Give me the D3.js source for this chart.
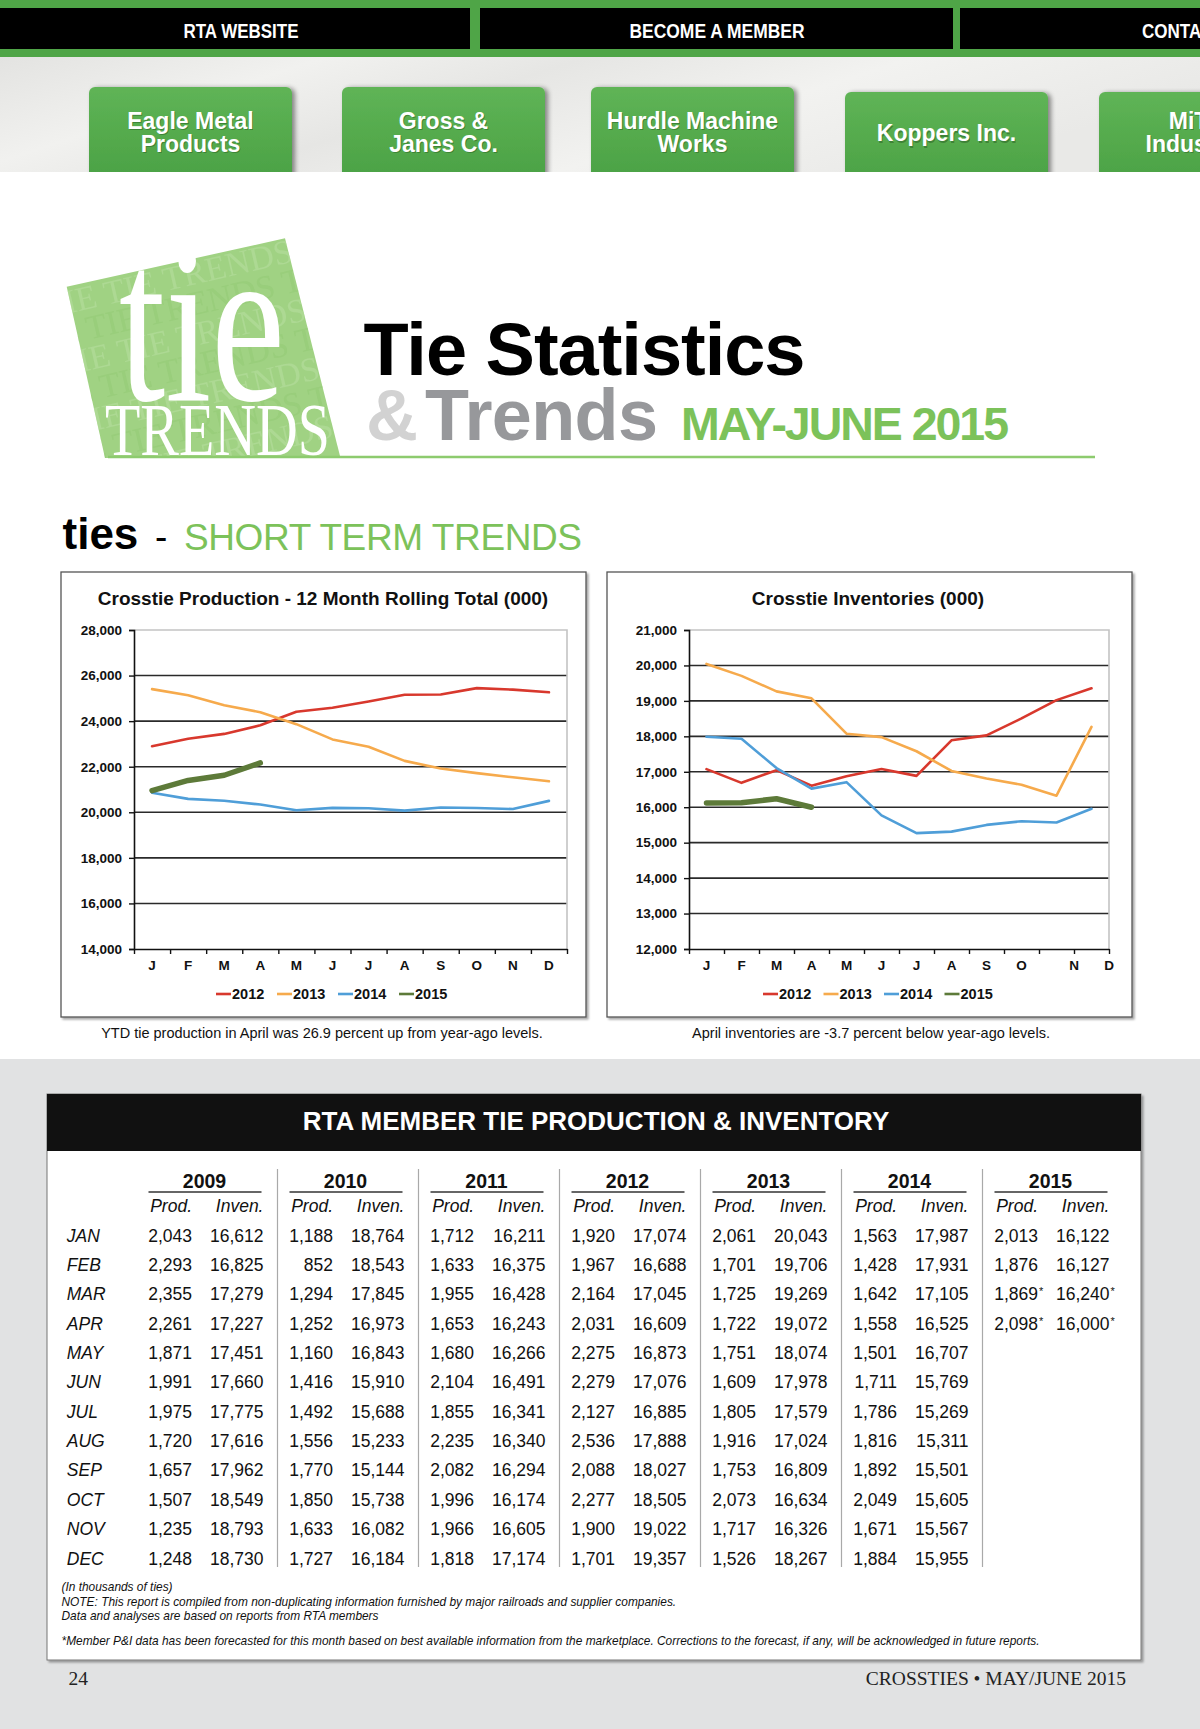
<!DOCTYPE html>
<html><head><meta charset="utf-8">
<script src="https://cdn.jsdelivr.net/npm/d3@7"></script>
<style>
html,body{margin:0;padding:0;background:#fff;}
svg{display:block;}
</style></head><body>
<svg id="page" width="1200" height="1729"></svg>
<script>
// ================= DATA =================
const monthNames = ["JAN","FEB","MAR","APR","MAY","JUN","JUL","AUG","SEP","OCT","NOV","DEC"];
const monthInitials = ["J","F","M","A","M","J","J","A","S","O","N","D"];
const chartYears = ["2012","2013","2014","2015"];

// Crosstie Production - 12 Month Rolling Total (000)
const rolling2012 = [22897,23231,23440,23818,24413,24588,24860,25161,25167,25448,25382,25265];
const rolling2013 = [25406,25140,24701,24392,23868,23198,22876,22256,21921,21717,21534,21359];
const rolling2014 = [20861,20588,20505,20341,20091,20193,20174,20074,20213,20189,20143,20501];
const rolling2015 = [20951,21399,21626,22166];
const prodTicks = [14000,16000,18000,20000,22000,24000,26000,28000];

// Crosstie Inventories (000)
const inventory2012 = [17074,16688,17045,16609,16873,17076,16885,17888,18027,18505,19022,19357];
const inventory2013 = [20043,19706,19269,19072,18074,17978,17579,17024,16809,16634,16326,18267];
const inventory2014 = [17987,17931,17105,16525,16707,15769,15269,15311,15501,15605,15567,15955];
const inventory2015 = [16122,16127,16240,16000];
const invTicks = [12000,13000,14000,15000,16000,17000,18000,19000,20000,21000];

// RTA member tie production & inventory table (thousands of ties)
const tableYears = ["2009","2010","2011","2012","2013","2014","2015"];
const prod2009 = [2043,2293,2355,2261,1871,1991,1975,1720,1657,1507,1235,1248];
const inv2009  = [16612,16825,17279,17227,17451,17660,17775,17616,17962,18549,18793,18730];
const prod2010 = [1188,852,1294,1252,1160,1416,1492,1556,1770,1850,1633,1727];
const inv2010  = [18764,18543,17845,16973,16843,15910,15688,15233,15144,15738,16082,16184];
const prod2011 = [1712,1633,1955,1653,1680,2104,1855,2235,2082,1996,1966,1818];
const inv2011  = [16211,16375,16428,16243,16266,16491,16341,16340,16294,16174,16605,17174];
const prod2012 = [1920,1967,2164,2031,2275,2279,2127,2536,2088,2277,1900,1701];
const inv2012  = [17074,16688,17045,16609,16873,17076,16885,17888,18027,18505,19022,19357];
const prod2013 = [2061,1701,1725,1722,1751,1609,1805,1916,1753,2073,1717,1526];
const inv2013  = [20043,19706,19269,19072,18074,17978,17579,17024,16809,16634,16326,18267];
const prod2014 = [1563,1428,1642,1558,1501,1711,1786,1816,1892,2049,1671,1884];
const inv2014  = [17987,17931,17105,16525,16707,15769,15269,15311,15501,15605,15567,15955];
const prod2015 = [2013,1876,1869,2098];
const inv2015  = [16122,16127,16240,16000];
const forecast2015 = [false,false,true,true];

const navLabels = ["RTA WEBSITE","BECOME A MEMBER","CONTACT"];
const buttonLabels = [["Eagle Metal","Products"],["Gross &","Janes Co."],["Hurdle Machine","Works"],["Koppers Inc."],["MiTek","Industries"]];

// ================= DRAW =================
const SANS = '"Liberation Sans", Arial, Helvetica, sans-serif';
const SERIF = '"Liberation Serif", "Times New Roman", serif';
const seriesColor = {"2012":"#d8382d","2013":"#f6aa4c","2014":"#4f9ed8","2015":"#5d7a39"};
const seriesWidth = {"2012":2.6,"2013":2.6,"2014":2.6,"2015":5.5};
const GREEN = "#7cc25a";

const svg = d3.select("#page");
svg.style("font-family", SANS);
const defs = svg.append("defs");

function shadowFilter(id, dx, dy, sd, op){
  const f = defs.append("filter").attr("id", id).attr("x","-20%").attr("y","-20%").attr("width","150%").attr("height","150%");
  f.append("feGaussianBlur").attr("in","SourceAlpha").attr("stdDeviation", sd).attr("result","blur");
  f.append("feOffset").attr("in","blur").attr("dx",dx).attr("dy",dy).attr("result","off");
  f.append("feComponentTransfer").attr("in","off").attr("result","sh").append("feFuncA").attr("type","linear").attr("slope",op);
  const m = f.append("feMerge");
  m.append("feMergeNode").attr("in","sh");
  m.append("feMergeNode").attr("in","SourceGraphic");
}
shadowFilter("btnShadow", 3, 1, 2.5, 0.45);
shadowFilter("boxShadow", 1.5, 2, 1.2, 0.35);

const texG = defs.append("linearGradient").attr("id","tex").attr("x1","0").attr("x2","1").attr("y1","0").attr("y2","0.3");
[["0%","#e3e3e1"],["25%","#f1f1ef"],["45%","#e6e6e4"],["70%","#f2f2f0"],["100%","#e9e9e7"]].forEach(s=>texG.append("stop").attr("offset",s[0]).attr("stop-color",s[1]));
const btnG = defs.append("linearGradient").attr("id","btn").attr("x1","0").attr("x2","0").attr("y1","0").attr("y2","1");
[["0%","#5fb456"],["100%","#49a043"]].forEach(s=>btnG.append("stop").attr("offset",s[0]).attr("stop-color",s[1]));

// page background
svg.append("rect").attr("x",0).attr("y",0).attr("width",1200).attr("height",1729).attr("fill","#fff");
svg.append("rect").attr("x",0).attr("y",1059).attr("width",1200).attr("height",670).attr("fill","#e1e2e3");

// ---- top navigation ----
svg.append("rect").attr("x",0).attr("y",0).attr("width",1200).attr("height",57).attr("fill","#4fa547");
[[0,470],[480,953],[960,1200]].forEach(b=>{
  svg.append("rect").attr("x",b[0]).attr("y",8).attr("width",b[1]-b[0]).attr("height",41).attr("fill","#000");
});
const navPos = [[241,"middle",115],[717,"middle",175],[1142,"start",82]];
navLabels.forEach((t,i)=>{
  svg.append("text").attr("x",navPos[i][0]).attr("y",37.5).attr("text-anchor",navPos[i][1])
    .attr("textLength",navPos[i][2]).attr("lengthAdjust","spacingAndGlyphs")
    .attr("fill","#fff").attr("font-weight","bold").attr("font-size",20).text(t);
});
svg.append("rect").attr("x",0).attr("y",57).attr("width",1200).attr("height",115).attr("fill","url(#tex)");

const btnLeft = [89,342,591,845,1099], btnTop = [87,87,87,92,92];
buttonLabels.forEach((lines,i)=>{
  const g = svg.append("g");
  g.append("rect").attr("x",btnLeft[i]).attr("y",btnTop[i]).attr("width",203).attr("height",100)
   .attr("rx",6).attr("fill","url(#btn)").attr("filter","url(#btnShadow)");
  const cx = btnLeft[i]+101.5;
  const base = lines.length===2 ? [128.5,151.5] : [141];
  lines.forEach((ln,j)=>{
    g.append("text").attr("x",cx+1).attr("y",base[j]+1.5).attr("text-anchor","middle")
      .attr("font-size",23).attr("font-weight","bold").attr("fill","#2f6a2a").attr("opacity",0.6).text(ln);
    g.append("text").attr("x",cx).attr("y",base[j]).attr("text-anchor","middle")
      .attr("font-size",23).attr("font-weight","bold").attr("fill","#fff").text(ln);
  });
});
svg.append("rect").attr("x",0).attr("y",172).attr("width",1200).attr("height",60).attr("fill","#fff");

// ---- logo ----
const logoPts = [[66.7,286.7],[285,238.3],[340,456],[105,458]];
defs.append("clipPath").attr("id","logoClip").append("polygon").attr("points",logoPts.map(p=>p.join(",")).join(" "));
svg.append("polygon").attr("points",logoPts.map(p=>p.join(",")).join(" ")).attr("fill","#a0d283");
const pat = svg.append("g").attr("clip-path","url(#logoClip)").append("g").attr("transform","rotate(-13,200,350)");
d3.range(8).forEach(r=>{
  pat.append("text").attr("x",20 + (r%2)*25).attr("y",255+r*30).attr("font-family",SERIF)
    .attr("font-size",34).attr("fill",r%2?"#b9e0a3":"#92c974").attr("opacity",0.5)
    .text("THE TIE TRENDS THE TIE TRENDS");
});
svg.append("text").attr("x",119).attr("y",400).attr("font-family",SERIF).attr("font-size",228)
  .attr("textLength",166).attr("lengthAdjust","spacingAndGlyphs").attr("fill","#fff").text("tie");
svg.append("text").attr("x",105).attr("y",455).attr("font-family",SERIF).attr("font-size",75)
  .attr("textLength",225).attr("lengthAdjust","spacingAndGlyphs").attr("fill","#fff").text("TRENDS");

// ---- page title ----
svg.append("text").attr("x",363.5).attr("y",375).attr("font-size",74).attr("font-weight","bold")
  .attr("textLength",442).attr("fill","#000").text("Tie Statistics");
svg.append("text").attr("x",366).attr("y",440).attr("font-size",72).attr("font-weight","bold")
  .attr("fill","#d2d2d2").text("&");
svg.append("text").attr("x",425).attr("y",440).attr("font-size",72).attr("font-weight","bold")
  .attr("textLength",233).attr("fill","#97989b").text("Trends");
svg.append("text").attr("x",681).attr("y",440).attr("font-size",46.5).attr("font-weight","bold")
  .attr("textLength",328).attr("fill",GREEN).text("MAY-JUNE 2015");
svg.append("line").attr("x1",108).attr("x2",1095).attr("y1",457).attr("y2",457).attr("stroke","#8dcb6e").attr("stroke-width",2.5);

// ---- section heading ----
svg.append("text").attr("x",62.5).attr("y",548.5).attr("font-size",44).attr("font-weight","bold").attr("fill","#000").text("ties");
svg.append("text").attr("x",155).attr("y",548.5).attr("font-size",37).attr("fill","#000").text("-");
svg.append("text").attr("x",184).attr("y",550).attr("font-size",37).attr("textLength",398).attr("fill",GREEN).text("SHORT TERM TRENDS");

// ---- charts ----
function drawChart(o){
  const g = svg.append("g");
  g.append("rect").attr("x",o.box[0]).attr("y",572).attr("width",o.box[1]-o.box[0]).attr("height",445)
    .attr("fill","#fff").attr("stroke","#555").attr("stroke-width",1.3).attr("filter","url(#boxShadow)");
  g.append("text").attr("x",o.titleX).attr("y",605).attr("text-anchor","middle").attr("font-size",19)
    .attr("font-weight","bold").attr("fill","#111").text(o.title);

  const top = 630, bottom = 949;
  const x = d3.scaleBand().domain(d3.range(12)).range([o.x0,o.x1]).padding(0);
  const xl = d3.scaleLinear().domain([0,12]).range([o.x0,o.x1]);
  const y = d3.scaleLinear().domain(d3.extent(o.ticks)).range([bottom,top]);

  // gridlines
  g.append("g").selectAll("line").data(o.ticks.slice(1,-1)).join("line")
    .attr("x1",o.x0).attr("x2",o.x1).attr("y1",d=>y(d)).attr("y2",d=>y(d))
    .attr("stroke","#2a2a2a").attr("stroke-width",1.6);
  // light plot border (top and right)
  g.append("path").attr("d",`M${o.x0},${y(o.ticks[o.ticks.length-1])}H${o.x1}V${bottom}`)
    .attr("fill","none").attr("stroke","#c4c4c4").attr("stroke-width",1.6);

  // y axis
  const ya = g.append("g").attr("transform",`translate(${o.x0},0)`)
    .call(d3.axisLeft(y).tickValues(o.ticks).tickFormat(d3.format(",")).tickSize(5).tickPadding(7));
  ya.select(".domain").attr("stroke","#111").attr("stroke-width",1.6);
  ya.selectAll(".tick line").attr("stroke","#111").attr("stroke-width",1.4);
  ya.selectAll(".tick text").attr("font-family",SANS).attr("font-size",13.5).attr("font-weight","bold").attr("fill","#111");

  // x axis (ticks on month boundaries)
  const xa = g.append("g").attr("transform",`translate(0,${bottom})`)
    .call(d3.axisBottom(xl).tickValues(d3.range(13)).tickFormat("").tickSize(5).tickSizeOuter(0));
  xa.select(".domain").attr("stroke","#111").attr("stroke-width",1.6);
  xa.selectAll(".tick line").attr("stroke","#111").attr("stroke-width",1.4);
  g.append("g").selectAll("text").data(monthInitials).join("text")
    .attr("x",(d,i)=>o.labelX(x,i)).attr("y",970).attr("text-anchor","middle")
    .attr("font-size",13.5).attr("font-weight","bold").attr("fill","#111").text(d=>d);

  // series lines
  const line = d3.line().x((d,i)=>x(i)+x.bandwidth()/2).y(d=>y(d));
  chartYears.forEach((yr,k)=>{
    g.append("path").datum(o.series[k]).attr("d",line).attr("fill","none")
      .attr("stroke",seriesColor[yr]).attr("stroke-width",seriesWidth[yr])
      .attr("stroke-linejoin","round").attr("stroke-linecap","round");
  });

  // legend
  const lg = g.append("g");
  chartYears.forEach((yr,k)=>{
    const lx = o.legendX + k*o.legendStep;
    lg.append("line").attr("x1",lx).attr("x2",lx+15).attr("y1",994).attr("y2",994)
      .attr("stroke",seriesColor[yr]).attr("stroke-width",2.6);
    lg.append("text").attr("x",lx+16).attr("y",999).attr("font-size",14.5).attr("font-weight","bold")
      .attr("fill","#111").text(yr);
  });
  // caption
  svg.append("text").attr("x",o.captionX).attr("y",1038).attr("text-anchor","middle")
    .attr("font-size",14.5).attr("fill","#111").text(o.caption);
}

drawChart({
  box:[61,586], title:"Crosstie Production - 12 Month Rolling Total (000)", titleX:323,
  x0:134, x1:567, ticks:prodTicks,
  series:[rolling2012,rolling2013,rolling2014,rolling2015],
  labelX:(x,i)=>x(i)+x.bandwidth()/2,
  legendX:216, legendStep:61,
  caption:"YTD tie production in April was 26.9 percent up from year-ago levels.", captionX:322
});
drawChart({
  box:[607,1132], title:"Crosstie Inventories (000)", titleX:868,
  x0:689, x1:1109, ticks:invTicks,
  series:[inventory2012,inventory2013,inventory2014,inventory2015],
  // as in the original, N and D labels sit on the last two month boundaries
  labelX:(x,i)=> i<10 ? x(i)+x.bandwidth()/2 : x(i)+x.bandwidth(),
  legendX:763, legendStep:60.5,
  caption:"April inventories are -3.7 percent below year-ago levels.", captionX:871
});

// ---- table ----
const tg = svg.append("g");
tg.append("rect").attr("x",47).attr("y",1094).attr("width",1094).attr("height",566)
  .attr("fill","#fff").attr("stroke","#777").attr("stroke-width",1).attr("filter","url(#boxShadow)");
tg.append("rect").attr("x",47).attr("y",1094).attr("width",1094).attr("height",57).attr("fill","#111");
tg.append("text").attr("x",596).attr("y",1130).attr("text-anchor","middle").attr("font-size",26)
  .attr("font-weight","bold").attr("fill","#fff").text("RTA MEMBER TIE PRODUCTION & INVENTORY");

const tableCols = [
  {year:"2009", prod:prod2009, inv:inv2009},
  {year:"2010", prod:prod2010, inv:inv2010},
  {year:"2011", prod:prod2011, inv:inv2011},
  {year:"2012", prod:prod2012, inv:inv2012},
  {year:"2013", prod:prod2013, inv:inv2013},
  {year:"2014", prod:prod2014, inv:inv2014},
  {year:"2015", prod:prod2015, inv:inv2015, forecast:forecast2015}
];
const colX = d3.scaleBand().domain(tableYears).range([136.5, 136.5+141*7]);
const rowY = d3.scalePoint().domain(monthNames).range([1241.7, 1564.5]);
const fmt = d3.format(",");
const FS = 17.5;

tableYears.slice(0,-1).forEach(yr=>{
  tg.append("line").attr("x1",colX(yr)+colX.bandwidth()).attr("x2",colX(yr)+colX.bandwidth())
    .attr("y1",1169).attr("y2",1567).attr("stroke","#a9a9a9").attr("stroke-width",1.2);
});
monthNames.forEach(m=>{
  tg.append("text").attr("x",66.8).attr("y",rowY(m)).attr("font-size",FS).attr("font-style","italic")
    .attr("fill","#111").text(m);
});
tableCols.forEach(c=>{
  const x0 = colX(c.year);
  tg.append("text").attr("x",x0+68).attr("y",1188).attr("text-anchor","middle").attr("font-size",19.5)
    .attr("font-weight","bold").attr("fill","#111").text(c.year);
  tg.append("line").attr("x1",x0+12).attr("x2",x0+125).attr("y1",1192).attr("y2",1192)
    .attr("stroke","#333").attr("stroke-width",1.3);
  tg.append("text").attr("x",x0+55.5).attr("y",1212).attr("text-anchor","end").attr("font-size",FS)
    .attr("font-style","italic").attr("fill","#111").text("Prod.");
  tg.append("text").attr("x",x0+127).attr("y",1212).attr("text-anchor","end").attr("font-size",FS)
    .attr("font-style","italic").attr("fill","#111").text("Inven.");
  c.prod.forEach((v,i)=>{
    const yy = rowY(monthNames[i]);
    tg.append("text").attr("x",x0+55.5).attr("y",yy).attr("text-anchor","end").attr("font-size",FS)
      .attr("fill","#111").text(fmt(v));
    tg.append("text").attr("x",x0+127).attr("y",yy).attr("text-anchor","end").attr("font-size",FS)
      .attr("fill","#111").text(fmt(c.inv[i]));
    if (c.forecast && c.forecast[i]) {
      [55.5,127].forEach(dx=>tg.append("text").attr("x",x0+dx+1).attr("y",yy-5).attr("font-size",11)
        .attr("fill","#111").text("*"));
    }
  });
});

const notes = [
  ["(In thousands of ties)",1591],
  ["NOTE: This report is compiled from non-duplicating information furnished by major railroads and supplier companies.",1606],
  ["Data and analyses are based on reports from RTA members",1620],
  ["*Member P&I data has been forecasted for this month based on best available information from the marketplace. Corrections to the forecast, if any, will be acknowledged in future reports.",1645]
];
notes.forEach(n=>{
  tg.append("text").attr("x",61.5).attr("y",n[1]).attr("font-size",11.9).attr("font-style","italic")
    .attr("fill","#111").text(n[0]);
});

// ---- footer ----
svg.append("text").attr("x",68.5).attr("y",1685).attr("font-family",SERIF).attr("font-size",19.5).attr("fill","#222").text("24");
svg.append("text").attr("x",1126).attr("y",1685).attr("text-anchor","end").attr("font-family",SERIF)
  .attr("font-size",19.5).attr("fill","#222").text("CROSSTIES • MAY/JUNE 2015");
</script>
</body></html>
